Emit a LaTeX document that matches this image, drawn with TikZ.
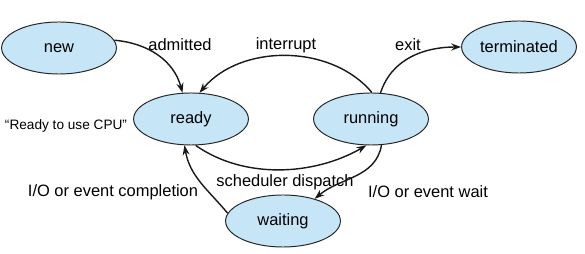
\documentclass[tikz,border=0pt]{standalone}
\usepackage{fontspec}
\setmainfont{Liberation Sans}
\usepackage{tikz}
\usetikzlibrary{shapes.geometric, arrows.meta}
\usepackage{xcolor}
\definecolor{statefill}{RGB}{198,230,248}

\begin{document}
\begin{tikzpicture}[x=0.025cm, y=-0.025cm,
    state/.style={ellipse, draw=black!85, line width=0.7pt, fill=statefill,
        minimum width=2.87cm, minimum height=1.3cm, inner sep=0pt,
        font=\fontsize{11.7}{14}\selectfont},
    trans/.style={-{Stealth[length=7pt, width=5pt]}, line width=1pt, black!90},
    lbl/.style={font=\fontsize{11.7}{14}\selectfont, inner sep=0pt}]
    \useasboundingbox (0,0) rectangle (585,254);

    % Draw the process states
    \node[state] (new) at (59,48) {new};
    \node[state] (ready) at (191,119) {ready};
    \node[state] (running) at (371,119) {running};
    \node[state] (terminated) at (519,47) {terminated};
    \node[state] (waiting) at (283,221) {waiting};

    % Draw transition labels
    \node[lbl] (admitted) at (180,45) {admitted};
    \node[lbl] (interrupt) at (286,45) {interrupt};
    \node[lbl] (exit) at (408,45) {exit};
    \node[lbl] (dispatch) at (285,182) {scheduler dispatch};
    \node[lbl] (evwait) at (428,192) {I/O or event wait};
    \node[lbl] (evdone) at (113,192) {I/O or event completion};
    \node[font=\fontsize{9.7}{12}\selectfont, inner sep=0pt] (cpu) at (66,126) {``Ready to use CPU''};

    % Draw transitions between states
    \draw[trans] (new.8) to[out=-5, in=105] (ready.108);
    \draw[trans] (running.88) to[out=130, in=50, looseness=0.95] (ready.72);
    \draw[trans] (running.70) to[out=72, in=180] (terminated.west);
    \draw[trans] (ready.-80) to[out=-35, in=-150, looseness=0.9] (running.-100);
    \draw[trans] (running.-68) to[out=-100, in=40] (waiting.35);
    \draw[trans] (waiting.172) to[out=130, in=-80] (ready.-104);
\end{tikzpicture}
\end{document}
